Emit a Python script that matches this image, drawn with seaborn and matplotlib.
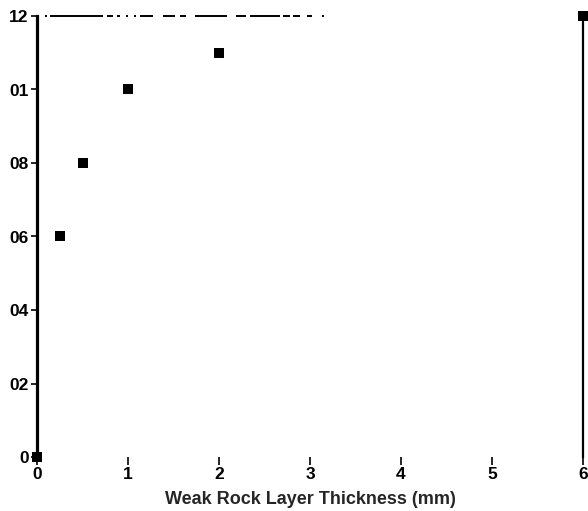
import matplotlib
matplotlib.use("Agg")
import matplotlib.pyplot as plt
import seaborn as sns
import pandas as pd

# Measured values
thickness_mm = [0.0, 0.25, 0.5, 1.0, 2.0, 6.0]
ratio = [0.0, 0.6, 0.8, 1.0, 1.1, 1.2]

# Axis ticks and labels
x_ticks = [0, 1, 2, 3, 4, 5, 6]
x_tick_labels = ["0", "1", "2", "3", "4", "5", "6"]
y_ticks = [1.2, 1.0, 0.8, 0.6, 0.4, 0.2, 0.0]
y_tick_labels = ["12", "01", "08", "06", "04", "02", "0"]
x_label = "Weak Rock Layer Thickness (mm)"

sns.set_style("ticks")
plt.rcParams["font.family"] = ["Liberation Sans", "DejaVu Sans"]
plt.rcParams["font.weight"] = "bold"
plt.rcParams["lines.scale_dashes"] = False

DPI = 100
W, H = 588, 511
PX = 72 / DPI  # one pixel in points
fig = plt.figure(figsize=(W / DPI, H / DPI), dpi=DPI)
fig.patch.set_facecolor("white")
ax = fig.add_axes([37 / W, 1 - 457 / H, (583 - 37) / W, (457 - 16) / H])
ax.set_facecolor("white")

df = pd.DataFrame({"thickness": thickness_mm, "ratio": ratio})
sns.scatterplot(data=df, x="thickness", y="ratio", marker="s", s=58,
                color="black", linewidth=0, ax=ax, clip_on=False, zorder=5)

ax.set_xlim(0, 6)
ax.set_ylim(0, 1.2)
ax.set_xticks(x_ticks)
ax.set_xticklabels(x_tick_labels)
ax.set_yticks(y_ticks)
ax.set_yticklabels(y_tick_labels)
ax.set_xlabel(x_label, fontsize=13, fontweight="bold", labelpad=6)
ax.set_ylabel("")

ax.tick_params(axis="x", direction="out", length=6, width=1.2, pad=1.5,
               labelsize=12.5, color="black", labelcolor="black")
ax.tick_params(axis="y", direction="out", length=4, width=1.2, pad=2,
               labelsize=12.5, color="black", labelcolor="black")

# Frame: heavy left edge, thin right edge, broken top edge, no bottom edge
ax.spines["bottom"].set_visible(False)
ax.spines["left"].set_linewidth(2.3)
ax.spines["left"].set_color("black")
ax.spines["right"].set_visible(True)
ax.spines["right"].set_linewidth(1.6)
ax.spines["right"].set_color("black")
ax.spines["top"].set_visible(True)
ax.spines["top"].set_linewidth(1.4)
ax.spines["top"].set_color("black")
ax.spines["top"].set_capstyle("butt")
# (on, off) pairs in pixels; the rule fades out past x ~ 3.1
top_dash_px = [2, 3, 53, 4, 6, 4, 3, 6, 2, 6, 2, 4, 13, 10, 12, 5,
               6, 9, 32, 9, 10, 4, 30, 3, 7, 3, 7, 7, 5, 10, 2, 600]
top_dash_pt = [v * PX for v in top_dash_px]
ax.spines["top"].set_linestyle((sum(top_dash_pt) - 8 * PX, top_dash_pt))

fig.savefig("out.png", dpi=DPI, facecolor="white")
